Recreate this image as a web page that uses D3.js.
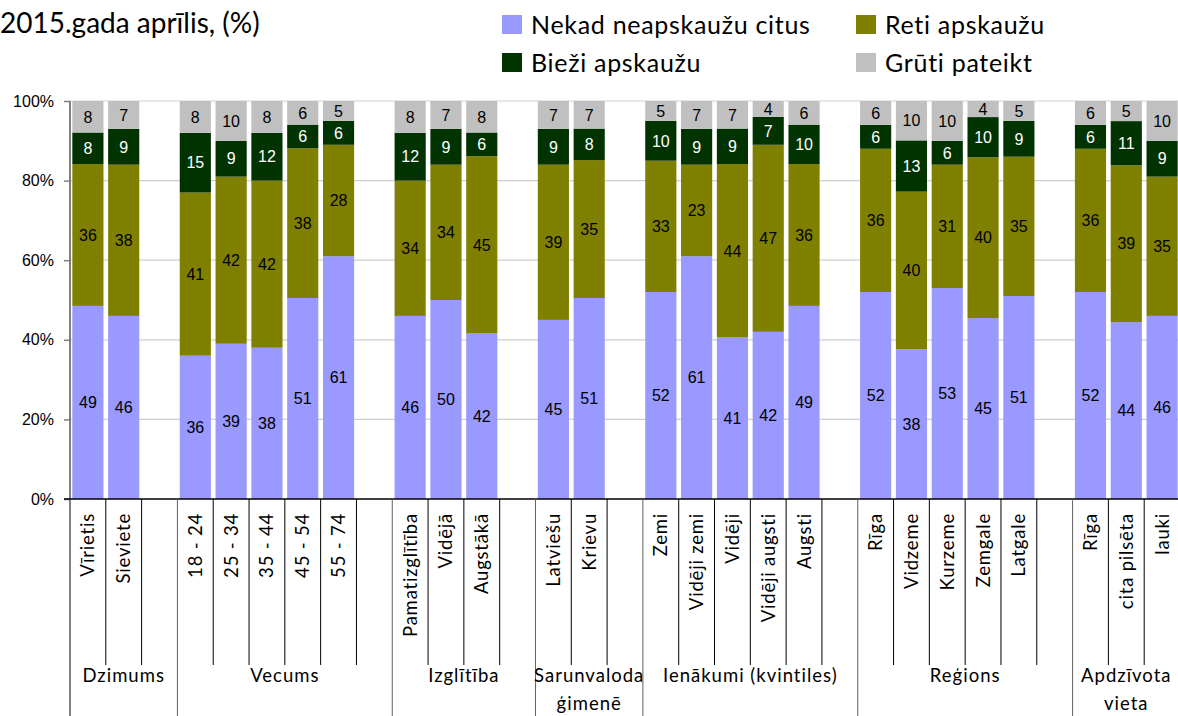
<!DOCTYPE html>
<html><head><meta charset="utf-8">
<script src="https://cdn.jsdelivr.net/npm/d3@7"></script>
<style>
html,body{margin:0;padding:0;background:#fff;}
svg{display:block;}
</style></head>
<body>
<svg id="chart" width="1178" height="716"></svg>
<script>
// ---- data ----
const categories = ["Vīrietis","Sieviete","18 - 24","25 - 34","35 - 44","45 - 54","55 - 74","Pamatizglītība","Vidējā","Augstākā","Latviešu","Krievu","Zemi","Vidēji  zemi","Vidēji","Vidēji augsti","Augsti","Rīga","Vidzeme","Kurzeme","Zemgale","Latgale","Rīga","cita pilsēta","lauki"];
const groupNames = [["Dzimums"],["Vecums"],["Izglītība"],["Sarunvaloda","ģimenē"],["Ienākumi (kvintiles)"],["Reģions"],["Apdzīvota","vieta"]];
const groupSizes = [2,5,3,2,5,5,3];
const seriesNames = ["Nekad neapskaužu citus","Reti apskaužu","Bieži apskaužu","Grūti pateikt"];
const nekad = [49,46,36,39,38,51,61,46,50,42,45,51,52,61,41,42,49,52,38,53,45,51,52,44,46];
const reti  = [36,38,41,42,42,38,28,34,34,45,39,35,33,23,44,47,36,36,40,31,40,35,36,39,35];
const biezi = [8,9,15,9,12,6,6,12,9,6,9,8,10,9,9,7,10,6,13,6,10,9,6,11,9];
const gruti = [8,7,8,10,8,6,5,8,7,8,7,7,5,7,7,4,6,6,10,10,4,5,6,5,10];
const yTicks = [0,0.2,0.4,0.6,0.8,1];
const colors = ["#9999FF","#808000","#003300","#C0C0C0"];
const labelColors = ["#000","#000","#fff","#000"];

// ---- build slots (categories + blank spacer after each group except last) ----
const slots = [];
let ci = 0;
const groupSpans = [];
groupSizes.forEach((n,gi)=>{
  const start = slots.length;
  for(let k=0;k<n;k++){ slots.push({id:"c"+ci, idx:ci}); ci++; }
  if(gi<groupSizes.length-1) slots.push({id:"b"+gi, idx:null});
  groupSpans.push({start, end: slots.length, names: groupNames[gi]});
});

const rows = categories.map((c,i)=>({
  key:"c"+i, name:c,
  s0:nekad[i], s1:reti[i], s2:biezi[i], s3:gruti[i]
}));
const stack = d3.stack().keys(["s0","s1","s2","s3"]).offset(d3.stackOffsetExpand);
const stacked = stack(rows);

const svg = d3.select("#chart");
const L = 70, R = 1180, T = 101, B = 499;
const x = d3.scaleBand().domain(slots.map(s=>s.id)).range([L,R]).paddingInner(0.13).paddingOuter(0.065);
const step = x.step();
const y = d3.scaleLinear().domain([0,1]).range([B,T]);

// gridlines
svg.append("g").selectAll("line").data(yTicks.filter(t=>t>0)).join("line")
  .attr("x1",L).attr("x2",1178).attr("y1",d=>y(d)).attr("y2",d=>y(d))
  .attr("stroke","#cfcfcf").attr("stroke-width",1.2);

// bars
const layer = svg.append("g").selectAll("g").data(stacked).join("g")
  .attr("fill",(d,i)=>colors[i]);
layer.selectAll("rect").data(d=>d).join("rect")
  .attr("x",d=>x(d.data.key)).attr("width",x.bandwidth())
  .attr("y",d=>y(d[1])).attr("height",d=>y(d[0])-y(d[1]));

// data labels
stacked.forEach((ser,si)=>{
  svg.append("g").selectAll("text").data(ser).join("text")
    .attr("x",d=>x(d.data.key)+x.bandwidth()/2)
    .attr("y",d=>(y(d[0])+y(d[1]))/2)
    .attr("dy","0.36em")
    .attr("text-anchor","middle")
    .attr("font-family","'Liberation Sans', Arial, sans-serif")
    .attr("font-size",16)
    .attr("fill",labelColors[si])
    .text(d=>d.data[ser.key]);
});

// y axis
const yAxis = d3.axisLeft(y).tickValues(yTicks).tickFormat(d3.format(".0%")).tickSize(6).tickPadding(10);
const ya = svg.append("g").attr("transform",`translate(${L},0)`).call(yAxis);
ya.select(".domain").remove();
ya.selectAll(".tick line").attr("stroke","#808080").attr("stroke-width",1.5);
ya.selectAll(".tick text").attr("font-family","'Liberation Sans', Arial, sans-serif").attr("font-size",16).attr("fill","#000");
svg.append("line").attr("x1",L).attr("x2",L).attr("y1",T).attr("y2",716).attr("stroke","#808080").attr("stroke-width",2);

// x axis line
svg.append("line").attr("x1",L-6).attr("x2",1178).attr("y1",B).attr("y2",B).attr("stroke","#000").attr("stroke-width",1.5);

// slot separators (short)
const sepG = svg.append("g");
slots.forEach((s,i)=>{
  if(i===0) return;
  const xs = L + i*step;
  const isGroup = groupSpans.some(g=>g.start===i);
  sepG.append("line").attr("x1",xs).attr("x2",xs).attr("y1",B).attr("y2",isGroup?716:665)
    .attr("stroke",isGroup?"#606060":"#000").attr("stroke-width",1);
});

// category labels (rotated)
svg.append("g").selectAll("text").data(rows).join("text")
  .attr("transform",d=>`translate(${x(d.key)+x.bandwidth()/2},513) rotate(-90)`)
  .attr("text-anchor","end").attr("dy","0.35em")
  .attr("font-family","Lato, 'Open Sans', sans-serif").attr("font-size",18.5)
  .attr("letter-spacing","0.8px")
  .attr("fill","#000")
  .text(d=>d.name);

// group labels
groupSpans.forEach(g=>{
  const cx = L + (g.start + (g.end - g.start)/2)*step;
  g.names.forEach((nm,li)=>{
    svg.append("text").attr("x",cx).attr("y",682+li*28).attr("text-anchor","middle")
      .attr("font-family","Lato, 'Open Sans', sans-serif").attr("font-size",18.5)
      .attr("letter-spacing","1px").attr("fill","#000").text(nm);
  });
});

// title
svg.append("text").attr("x",0).attr("y",33)
  .attr("font-family","Lato, 'Open Sans', sans-serif").attr("font-size",28).attr("fill","#000")
  .text("2015.gada aprīlis, (%)");

// legend
const legPos = [[502,25],[856,25],[502,63],[856,63]];
seriesNames.forEach((nm,i)=>{
  const [lx,ly] = legPos[i];
  svg.append("rect").attr("x",lx).attr("y",ly-10).attr("width",20).attr("height",19).attr("fill",colors[i]);
  svg.append("text").attr("x",lx+29).attr("y",ly).attr("dy","0.35em")
    .attr("font-family","Lato, 'Open Sans', sans-serif").attr("font-size",25)
    .attr("letter-spacing","0.7px")
    .attr("fill","#000").text(nm);
});
</script>
</body></html>
